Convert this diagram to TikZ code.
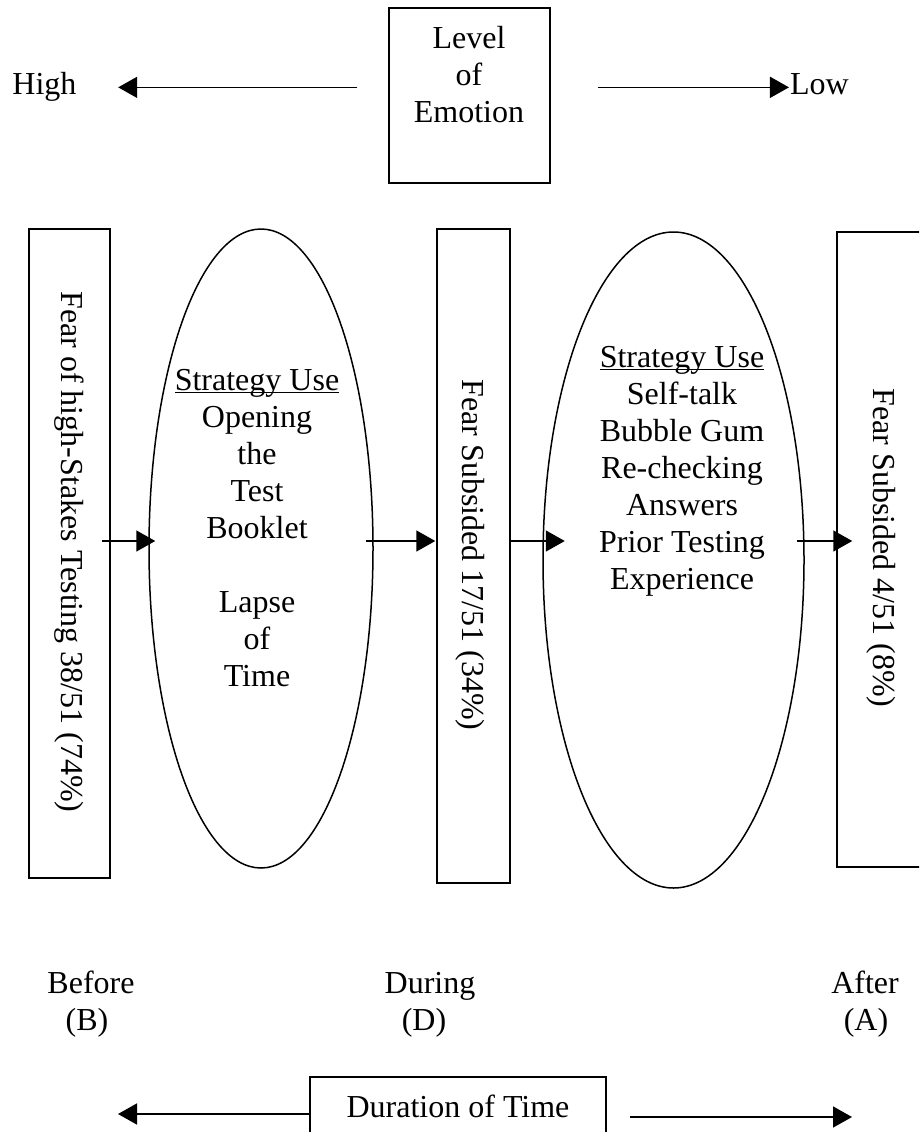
\documentclass[tikz,border=0pt]{standalone}
\usepackage{fontspec}
\setmainfont{Liberation Serif}
\usetikzlibrary{shapes.geometric,arrows.meta,calc}
\begin{document}
\begin{tikzpicture}[x=1pt,y=-1pt,
  every node/.style={font=\fontsize{32}{37}\selectfont, inner sep=0pt},
  boxnode/.style={draw, rectangle, line width=1.5pt, inner sep=0pt},
  ell/.style={draw, ellipse, line width=1.5pt, inner sep=0pt},
  arr/.style={line width=1.6pt, -{Triangle[length=19pt,width=21pt]}},
  lbl/.style={anchor=base},
  vert/.style={rotate=-90},
  txt/.style={align=center}]
\clip (0,0) rectangle (919,1132);
% top
\node[boxnode, minimum width=161pt, minimum height=175pt] (lev) at (469.5,95.5) {};
\node[txt] (levt) at (469,75) {Level\\of\\Emotion};
\node[lbl] (high) at (44.5,95) {High};
\node[lbl] (low) at (819.5,95) {Low};
\draw[arr, shorten <=31pt, shorten >=41.5pt] (lev.west|-high.east) -- (high.east);
\draw[arr, shorten <=47pt, shorten >=1pt] (lev.east|-high.east) -- (low.west|-high.east);
% middle row
\node[boxnode, minimum width=81pt, minimum height=649pt] (r1) at (69.5,553.5) {};
\node[boxnode, minimum width=73pt, minimum height=654pt] (r2) at (473.5,556) {};
\node[boxnode, minimum width=93pt, minimum height=635pt] (r3) at (883.5,549.5) {};
\node[ell, minimum width=224pt, minimum height=639pt] (e1) at (261,548.5) {};
\node[ell, minimum width=261pt, minimum height=656pt] (e2) at (673.5,560) {};
\node[vert] (t1) at (69,552) {Fear of high-Stakes Testing 38/51 (74\%)};
\node[vert] (t2) at (470,555) {Fear Subsided 17/51 (34\%)};
\node[vert] (t3) at (881,548) {Fear Subsided 4/51 (8\%)};
\node[txt] (s1) at (257,539) {\underline{\smash{Strategy Use}}\\Opening\\the\\Test\\Booklet\\[37pt]Lapse\\of\\Time};
\node[txt] (s2) at (682,482) {\underline{\smash{Strategy Use}}\\Self-talk\\Bubble Gum\\Re-checking\\Answers\\Prior Testing\\Experience};
\coordinate (ym) at (0,541);
\draw[arr, shorten <=-9pt, shorten >=-7pt] (r1.east|-ym) -- (e1.west|-ym);
\draw[arr, shorten <=-8pt, shorten >=1pt] (e1.east|-ym) -- (r2.west|-ym);
\draw[arr, shorten <=-2pt, shorten >=-22.5pt] (r2.east|-ym) -- (e2.west|-ym);
\draw[arr, shorten <=-7.5pt, shorten >=-16pt] (e2.east|-ym) -- (r3.west|-ym);
% bottom labels
\node[lbl] (bef) at (91,993) {Before};
\node[lbl] (befb) at (87,1030) {(B)};
\node[lbl] (dur1) at (430,993) {During};
\node[lbl] (dur2) at (424,1030) {(D)};
\node[lbl] (aft) at (865,993) {After};
\node[lbl] (afta) at (866,1030) {(A)};
% duration
\node[boxnode, minimum width=296pt, minimum height=63pt] (dur) at (458,1108.5) {};
\node[lbl] (durt) at (458,1117) {Duration of Time};
\coordinate (lt) at (118,1114);
\coordinate (rt) at (852,1117);
\draw[arr] (dur.west|-lt) -- (lt);
\draw[arr, shorten <=23pt] (dur.east|-rt) -- (rt);
\end{tikzpicture}
\end{document}
